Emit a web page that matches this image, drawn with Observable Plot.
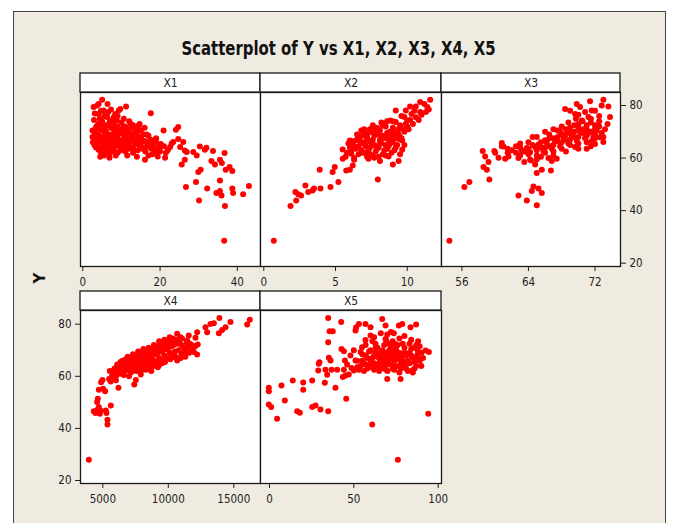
<!DOCTYPE html>
<html><head><meta charset="utf-8">
<script src="https://cdn.jsdelivr.net/npm/d3@7"></script>
<script src="https://cdn.jsdelivr.net/npm/@observablehq/plot@0.6"></script>
<style>
body{margin:0;background:#fff;}
#wrap{position:relative;width:673px;height:523px;overflow:hidden;}
#bg{position:absolute;left:13px;top:11px;width:653px;height:540px;background:#efebe0;border:1.5px solid #444;box-sizing:border-box;}
#title{position:absolute;left:0;width:677px;top:37px;text-align:center;font:bold 19.5px "DejaVu Sans Condensed",sans-serif;color:#111;white-space:nowrap;transform:scaleX(0.85);transform-origin:338.5px 0;}
#ylab{position:absolute;left:31px;top:268px;width:20px;height:20px;line-height:20px;text-align:center;font:bold 15px "DejaVu Sans",sans-serif;color:#111;transform:rotate(-90deg);}
.panel{position:absolute;}
</style></head>
<body><div id="wrap"><div id="bg"></div><div id="title">Scatterplot of Y vs X1, X2, X3, X4, X5</div><div id="ylab">Y</div></div>
<script>
const yTicks = [20, 40, 60, 80];
const panelLabels = ["X1", "X2", "X3", "X4", "X5"];
const x1Ticks = [0, 20, 40];
const x2Ticks = [0, 5, 10];
const x3Ticks = [56, 64, 72];
const x4Ticks = [5000, 10000, 15000];
const x5Ticks = [0, 50, 100];

const x1Pts = [[2.8,79.4],[4.1,80.6],[5.0,82.2],[3.7,80],[6.4,80.6],[5.4,78.1],[4.1,76.8],[8.4,76.8],[9.3,78.1],[9.7,78.7],[11.2,79.6],[17.6,77.1],[6.3,75.6],[7.6,74.3],[8.8,74.3],[5.0,73],[7.1,72.4],[14.7,73],[13.1,71.8],[20.9,70.5],[24.1,70.8],[24.7,71.8],[3.3,69.2],[2.8,68],[3.7,66],[4.1,63.2],[6.9,60.1],[6.9,61.6],[9.7,62.9],[16.1,59.4],[19.4,60.6],[21.3,60.1],[20.2,65.4],[22.6,64.2],[23.4,66.1],[24.7,67.3],[26.0,66.1],[26.4,62.9],[26.9,62.3],[25.2,64.2],[25.6,57.6],[26.4,59.4],[28.6,62.3],[29.5,61],[30.3,64.4],[31.6,63.2],[32.0,63.9],[33.7,62.7],[36.7,61.9],[33.3,58.9],[34.2,57.6],[35.5,59.4],[36.0,58.1],[29.9,54.7],[30.5,55.6],[37.0,55.6],[38.0,56.6],[38.7,55.1],[26.7,49],[29.3,50.9],[32.2,48.4],[35.5,51.5],[34.6,46.7],[35.9,45.8],[35.5,47.5],[38.7,48.4],[38.9,46.7],[41.5,46.2],[43.0,49.4],[30.1,43.9],[36.8,41.8],[36.6,28.5],
[2.5,68],[3,70],[3.5,67],[4,69],[4.5,71],[5,66],[5.5,68.5],[6,70],[6.5,67],[7,65],[7.5,69],[8,71],[8.5,66],[9,68],[9.5,64.5],[10,70],[10.5,67],[11,65.5],[11.5,69],[12,66],[12.5,68],[13,64],[13.5,70],[14,67],[14.5,65],[15,68],[15.5,63.5],[16,66.5],[16.5,69],[17,64.5],[17.5,67],[18,65],[18.5,63],[19,66],[19.5,64],[20,62.5],[21,64.5],[22,63],[3,65],[4,64],[5,63],[6,62.5],[7,64],[8,63],[9,62],[10,64],[11,62.5],[12,63.5],[13,62],[4,73],[5,74],[6,72.5],[7,74],[8,73],[9,72],[10,73.5],[11,72],[12,71],[13,72.5],[14,71],[15,70.5],[16,71.5],[3.5,72],[6,69],[7,68],[8,67],[9,66],[10,66.5],[11,68],[12,69.5],[13,67],[14,69],[15,65.5],[16,64],[17,68.5],[18,66.5],[19,67.5],[20,65],[5,65.5],[6,64.5],[2.5,70.5],[3,66.5],
[3.2,71],[3.8,68.5],[4.3,66.5],[4.8,68],[5.2,70.5],[5.7,67],[6.2,65.5],[6.7,69],[7.2,71.5],[7.7,66],[8.2,68.5],[8.7,70],[9.2,67],[9.7,69.5],[10.2,65],[10.7,68.5],[11.2,70.5],[11.7,66.5],[12.2,64.5],[12.7,66.5],[13.2,68.5],[13.7,65.5],[14.2,63],[14.7,66],[15.2,67],[15.7,69],[16.2,62.5],[16.7,65.5],[17.2,66],[17.7,63.5],[18.2,64],[18.7,67],[19.2,62],[2.6,66],[3.4,64],[4.6,62.5],[5.3,64],[5.8,72],[6.8,73],[7.8,72],[8.3,64.5],[9.4,70.5],[10.4,71.5],[11.3,63.5],[12.4,73],[4.4,75],[5.6,76],[6.6,77.5],[7.3,78.5],[3.1,77],[2.9,74.5],[4.7,78],[8,75.5],[9,76],[10.6,75],[12,74],[14.5,72.5],[21.5,62],[23,65.5],[19.8,63.5],[18,61.5],[17,61],[14,60.5],[11.5,61],[8.5,61],[7.5,62.5],[5.5,61],[4.5,60.5]];

const x2Pts = [[0.7,28.5],[1.86,41.8],[2.26,43.9],[2.2,47.1],[2.4,46.2],[2.6,45.8],[2.9,49.6],[3.1,47.1],[3.4,47.7],[3.5,48.4],[3.9,55.6],[3.95,48.4],[4.65,49],[4.8,54.7],[4.95,56.6],[5.2,50.9],[5.5,59.7],[5.5,63.3],[5.75,55.3],[6.0,55.6],[6.2,57.2],[6.3,59.4],[6.1,61.6],[6.4,64.2],[6.0,66.7],[7.3,59.7],[7.7,60.1],[8.1,58.9],[7.95,51.8],[8.7,60.6],[9.0,57.6],[9.4,58.9],[9.65,63.2],[9.65,66.7],[9.4,67.3],
[9.2,78.1],[9.8,75.6],[10.2,79.6],[10.6,79.6],[10.9,81.3],[11.2,80.6],[11.4,79.4],[11.6,82.2],[10.9,77.5],[10.3,76.8],[10.0,74.3],[9.9,78.1],[9.2,73.7],[8.8,74.3],[9.4,71.1],[8.8,69.9],[8.3,72.4],[8.4,73.0],[7.8,70.5],[7.4,69.9],[6.9,68.6],
[6.2,65],[6.5,67],[6.8,63],[7,66],[7.2,68.5],[7.4,64],[7.6,67],[7.8,62.5],[8,69],[8.2,65.5],[8.4,67.5],[8.6,63.5],[8.8,70],[9,66],[9.2,68.5],[6.6,61.5],[7.1,62],[7.5,70.5],[7.9,71.5],[8.3,61.5],[8.7,64.5],[9.1,63],[9.4,69],[6.9,65.5],[7.3,66.5],[7.7,65],[8.1,67],[8.5,68],[8.9,66.5],[6.4,63.5],[5.8,62],[6,64],[7,69.5],[8,64],[9,71.5],[9.5,72.5],[9.8,70],[10,72],[10.2,74.5],[8.5,72],[8.1,70.5],[7.4,71],[6.7,68],[5.7,60.5],[6.3,60],[7.2,60.5],[7.6,61],[8.9,62],[9.3,65],
[6.6,64.5],[6.9,62],[7.1,64.5],[7.3,63],[7.5,65.5],[7.7,68.5],[7.9,63.5],[8.1,66],[8.3,68.5],[8.5,65],[8.7,67],[8.9,68.5],[9.1,67.5],[9.3,70],[9.5,68],[9.7,71],[9.9,73],[10.1,71],[10.4,73],[10.6,75.5],[10.8,74.5],[11,76.5],[11.3,77.5],[11.5,78.5],[10.5,78],[9.6,76],[9.0,74],[6.5,69],[6.8,70.5],[7.0,71],[7.6,72.5],[8.2,73.5],[8.6,74],[6.3,66.5],[6.1,63],[5.9,65.5],[7.4,61.5],[8.0,60.5],[8.5,61],[9.5,61.5],[7.8,64.5],[8.4,63],[8.8,65.5],[9.2,64],[7.2,67.5],[6.7,66.5],[8.6,69.5],[9.0,69.5],[9.6,67.5],[9.8,65]];

const x3Pts = [[54.5,28.5],[56.3,49],[56.9,50.9],[58.5,62.7],[58.8,60.6],[58.6,56.6],[59.0,55.6],[59.2,58.5],[59.3,51.8],[59.9,62.7],[60.4,60.1],[60.8,65.7],[61.0,64.4],[61.2,59.7],[61.6,60.6],[61.8,62.9],[62.8,45.8],[63.8,43.9],[64.4,47.5],[64.6,49.2],[65.2,48.4],[65.6,46.7],[65.0,42],[64.3,59.1],[64.8,57.6],[65.6,55.6],[65.0,54.3],[66.7,55.3],[66.8,58.9],[67.4,59.7],[68.4,78.7],[69.6,76.8],[69.8,80.6],[70.2,79.4],[71.4,81.6],[73.0,82.2],[72.8,80],[73.6,79.6],[73.8,75.6],[73.0,66.1],[72.6,67.9],[72.0,71.1],[71.2,75.6],[71.6,78.1],[70.8,77.5],[70.4,74.3],[69.6,64.2],[71.0,63.5],[72.0,65.4],
[62,63],[62.5,62],[63,64],[63.5,62.5],[64,63.5],[64.5,65],[65,63],[65.5,66],[66,64],[66.5,67.5],[67,65],[67.5,68],[68,66],[68.5,69],[69,67],[69.5,70],[70,68],[70.5,71],[71,68.5],[71.5,70],[72,69],[72.5,72],[64,61.5],[65,61],[66,62],[67,62.5],[68,63.5],[69,65],[70,65.5],[71,66],[72,67.5],[73,68],[65,68],[66,70],[67,71],[68,72],[69,71.5],[70,73],[71,72.5],[63,65.5],[64.5,68],[66.5,64.5],[67.5,66.5],[68.5,67],[69.5,68],[70.5,69.5],[71.5,73.5],[72.5,74],[62.8,60],[63.5,58.5],[64.2,59.5],[65.5,60.5],[66.4,60],[61.5,63.5],[60.8,64.5],[67.8,70],[68.8,73.5],[69.7,75],[70.8,70.5],[71.6,66.5],
[63.2,62.8],[63.8,63.8],[64.2,62.2],[64.8,64.2],[65.2,65.2],[65.8,62.5],[66.2,65.8],[66.8,63.5],[67.2,66.5],[67.8,64.5],[68.2,67.8],[68.8,65.5],[69.2,68.5],[69.8,66.5],[70.2,70],[70.8,67.5],[71.2,69.5],[71.8,68],[72.2,70.5],[72.8,69.5],[65.5,64],[66,66.8],[67,67.5],[68,69],[69,69.5],[70,71.5],[71,71],[72,72.5],[66.5,69],[67.5,70.5],[68.5,71],[69.5,72.5],[70.5,74],[71.5,75],[72.5,76],[70,76.5],[72,78],[69,78],[64,66],[62.5,64.5],[61.5,62],[60,62],[63,61],[65,59.5],[67,61],[68.5,62.5],[70,63.5],[71.5,64.5],[73.2,71],[73.5,73]];

const x4Pts = [[3931,28],[4313,46.6],[4440,45.9],[4567,47.1],[4695,48.2],[4618,51.4],[4567,50.1],[4771,45.6],[4822,46.9],[4695,54.8],[4873,57.7],[4975,58.6],[5025,55.2],[5178,54.3],[5229,46.9],[5280,45.9],[5356,43.3],[5356,41.5],[5611,48.8],[5483,59],[5534,62],[5865,62.5],[5993,59.9],[6196,55.6],[7400,56.9],[7527,58.6],[7900,60.7],
[12840,78.8],[13220,80.1],[13475,80.4],[13900,82.4],[14110,77.8],[14370,78.8],[14750,80.8],[13860,76.5],[12966,76.9],[12200,76.9],[12075,74.8],[12250,72.2],[11950,69.3],[12200,68.4],[16020,79.9],[16220,81.7],[11560,75.7],[11440,73.7],[10675,76.3],[10930,75],[10160,74.4],[10290,67.3],[10680,66.1],[9280,64.1],[9530,65],[7876,61.6],[7367,62.5],
[5900,63],[6200,62],[6400,64],[6600,63],[6800,65],[7000,64],[7200,66],[7400,65],[7600,67],[7800,66],[8000,68],[8200,67],[8400,66],[8600,69],[8800,68],[9000,70],[9200,69],[9400,71],[9600,70],[9800,72],[10000,71],[10200,73],[10400,72],[10600,74],[10800,70],[11000,72],[11200,71],[11400,73],[11600,69],[11800,72],[6000,60.5],[6300,61],[6500,61.5],[6700,62],[6900,62.5],[7100,63],[7300,62.5],[7500,63.5],[7700,64],[7900,63.5],[8100,64.5],[8300,65],[8500,64],[8700,65.5],[8900,66],[9100,65.5],[9300,67],[9500,66],[9700,68],[9900,67],[10100,69],[10300,68],[10500,69.5],[6500,66],[6900,67.5],[7300,68.5],[7700,69.5],[8100,70.5],[8500,71],[8900,72],[9300,73.5],[9700,74],[10100,75],[6100,64.5],[5800,61.5],[11000,68.5],[11300,67.5],[10700,66.5],[8300,62.5],[8700,62],[9200,63.5],[7000,60],[6600,60.5],
[6050,62.5],[6250,63.5],[6450,62.5],[6650,64.5],[6850,63.5],[7050,65.5],[7250,64],[7450,66.5],[7650,65.5],[7850,67.5],[8050,66.5],[8250,68.5],[8450,67.5],[8650,66.5],[8850,69.5],[9050,68.5],[9250,70.5],[9450,69.5],[9650,71.5],[9850,70.5],[10050,72.5],[10250,71.5],[10450,73.5],[10650,72.5],[10850,73],[11050,74.5],[11250,69.5],[11450,71],[11650,72.5],[11850,70.5],[12050,71.5],[7150,61.5],[7550,62],[7950,62.5],[8450,63],[8850,64],[9350,65],[9750,65.5],[10150,66.5],[10550,67.5],[10950,67],[6350,65.5],[6750,66.5],[7150,67],[7550,68],[7950,69],[8350,69.5],[8750,70.5],[9150,71.5],[9550,72.5],[9950,73.5],[10350,74.5],[5700,60],[5600,58],[6000,58.5]];

const x5Pts = [[-0.4,55.6],[-0.4,54.3],[7.1,56.5],[-0.4,49.2],[1.0,48.2],[4.5,43.7],[9.1,50.7],[13.8,58.4],[16.4,46.6],[18.0,46],[20.0,57.6],[20.0,54.8],[25.3,58.4],[25.3,48.2],[27.3,48.8],[30.2,47.3],[34.8,46.6],[32.8,57.5],[34.2,60.6],[29.2,64.8],[28.9,62.2],[29.6,65.4],[34.8,82.4],[35.6,77.3],[37.5,77.3],[34.8,73.1],[35.2,67.1],[36.2,66.1],[33.2,62.5],[36.8,62.5],[39.1,55.6],[40.1,62.5],[42.5,80.8],[42.7,70.5],[44.1,69.6],[43.5,59.7],[45.5,51.4],[44.7,66.1],[44.1,62.5],[45.1,60.3],[47.0,60.7],[48.6,63.2],[50.0,62.2],[51.0,77.6],[51.4,78.8],[53.0,80.1],[51.0,66.1],[52.0,63.5],[56.9,80.1],[59.9,78.8],[59.9,75.7],[60.9,41.5],[66.8,82],[68.8,79.5],[69.8,76.0],[69.8,59],[73.7,76.5],[74.3,72.5],[76.7,79.5],[78.7,80.1],[83.6,78.8],[86.9,79.9],[77.7,59],[84.6,62.2],[88.1,73.5],[87.5,68],[92.5,69.9],[94.5,69.3],[94.1,45.6],[76.1,28],[68.8,74.3],[54.9,71.2],[54.0,69.3],[56.9,73.9],[62.8,72.5],
[55,66],[57,68],[59,64],[61,67],[63,69],[65,65],[67,68],[69,66],[71,70],[73,67],[75,64],[77,69],[79,66],[81,68],[83,65],[85,67],[87,64],[89,66],[58,63],[62,62.5],[66,63],[70,62],[74,62.5],[78,63],[82,62],[86,63],[60,70],[64,71],[68,72],[72,71.5],[76,72],[80,71],[84,70.5],[88,69.5],[66,66],[70,67.5],[74,68.5],[78,65],[72,64.5],[76,66.5],[80,64],[68,64],[64,67.5],[62,65],[56,62],[54,64],[52,66],[83,72.5],[86,71],[90,64],[91,67],[73,73.5],[69,74],[77,74.5],[80,75.5],[57,72],[61,73.5],
[56,65],[58,67],[60,65.5],[62,68],[64,64],[66,69],[68,67],[70,64.5],[72,68],[74,66],[76,69],[78,67.5],[80,69],[82,66],[84,68],[86,65.5],[88,67],[90,69],[59,69.5],[63,71],[67,70],[71,72.5],[75,70.5],[79,72.5],[83,69],[87,72],[65,62],[69,62.5],[73,63],[77,61.5],[81,63],[85,61.5],[61,63.5],[57,64.5],[53,62.5],[55,68.5],[67,65.5],[71,66.5],[75,67.5],[79,68],[73,69.5],[69,69],[65,67],[77,64],[81,65.5],[89,71.5],[84,74],[62,75],[66,76.5],[72,77],[48,68],[50,70],[46,64.5]];

const FONT = '"DejaVu Sans Condensed","DejaVu Sans",sans-serif';
const wrap = document.getElementById("wrap");

function panel(pts, xdom, xticks, label, left, top, w, h, ydom, yaxis) {
  const ml = yaxis === "left" ? 40 : 14, mr = yaxis === "right" ? 40 : 14, mt = 22, mb = 34;
  const chart = Plot.plot({
    width: ml + w + mr, height: mt + h + mb,
    marginLeft: ml, marginRight: mr, marginTop: mt, marginBottom: mb,
    style: {background: "transparent", fontFamily: FONT, fontSize: "11.5px", color: "#222", overflow: "visible"},
    x: {domain: xdom, ticks: xticks, tickSize: 5, tickPadding: 6, label: null, tickFormat: d => String(d)},
    y: {domain: ydom, ticks: yTicks, tickSize: 5, tickPadding: 4, label: null, axis: yaxis},
    marks: [
      Plot.frame({fill: "white", stroke: "none"}),
      Plot.dot(pts, {x: d => d[0], y: d => d[1], r: 3, fill: "#ff0000", stroke: "none"}),
      Plot.frame({stroke: "#1a1a1a", strokeWidth: 1.3}),
      Plot.text([label], {frameAnchor: "top", lineAnchor: "middle", dy: -9.5, text: d => d, fontSize: 12, fill: "#222"})
    ]
  });
  const svg = d3.select(chart);
  svg.insert("rect", 'g[aria-label="text"]')
    .attr("x", ml).attr("y", mt - 19).attr("width", w).attr("height", 19)
    .attr("fill", "white").attr("stroke", "#1a1a1a").attr("stroke-width", 1.3);
  chart.classList.add("panel");
  chart.style.left = (left - ml) + "px";
  chart.style.top = (top - mt) + "px";
  chart.style.maxWidth = "none";
  wrap.appendChild(chart);
}

const yRow1 = [18.74, 84.95], yRow2 = [18.85, 85.26];
panel(x1Pts, [-0.6, 46.0], x1Ticks, panelLabels[0], 80, 92, 180, 174, yRow1, null);
panel(x2Pts, [-0.23, 12.39], x2Ticks, panelLabels[1], 260, 92, 181, 174, yRow1, null);
panel(x3Pts, [53.55, 75.06], x3Ticks, panelLabels[2], 441, 92, 179, 174, yRow1, "right");
panel(x4Pts, [3298, 17038], x4Ticks, panelLabels[3], 80, 310, 180, 173, yRow2, "left");
panel(x5Pts, [-5.33, 101.96], x5Ticks, panelLabels[4], 260, 310, 181, 173, yRow2, null);
</script></body></html>
